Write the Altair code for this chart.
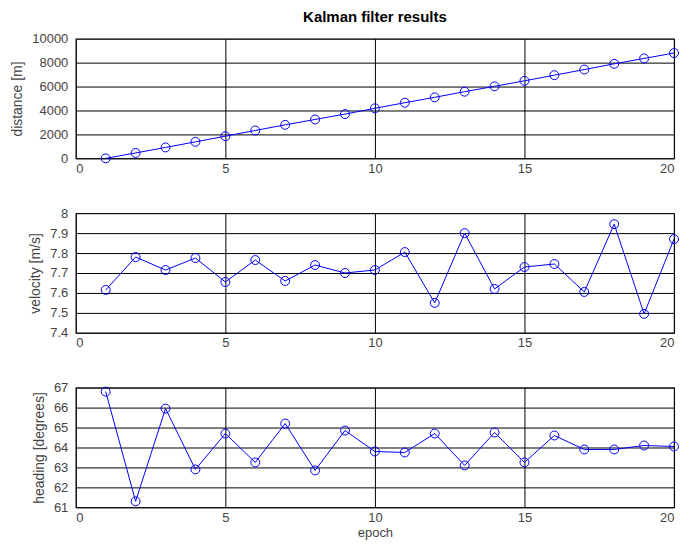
import altair as alt
import pandas as pd

epoch = list(range(1, 21))
distance = [0, 450, 910, 1380, 1850, 2330, 2800, 3250, 3700, 4180,
            4650, 5100, 5570, 6020, 6480, 6950, 7420, 7900, 8350, 8800]
velocity = [7.615, 7.78, 7.715, 7.775, 7.655, 7.765, 7.66, 7.74, 7.70, 7.715,
            7.805, 7.55, 7.90, 7.62, 7.73, 7.745, 7.605, 7.945, 7.495, 7.87]
heading = [66.8, 61.3, 65.95, 62.9, 64.7, 63.25, 65.2, 62.85, 64.85, 63.8,
           63.75, 64.7, 63.1, 64.75, 63.25, 64.6, 63.9, 63.9, 64.1, 64.05]

x_ticks = [0, 5, 10, 15, 20]
dist_ticks = [0, 2000, 4000, 6000, 8000, 10000]
vel_ticks = [7.4, 7.5, 7.6, 7.7, 7.8, 7.9, 8.0]
head_ticks = [61, 62, 63, 64, 65, 66, 67]

df = pd.DataFrame({"epoch": epoch, "distance": distance,
                   "velocity": velocity, "heading": heading})

FONT = "Liberation Sans"
BLUE = "#0000ff"


def panel(field, title, domain, ticks, fmt, height, show_x_title=False, chart_title=None):
    x = alt.X("epoch:Q",
              scale=alt.Scale(domain=[0, 20], nice=False),
              axis=alt.Axis(values=x_ticks, title="epoch" if show_x_title else None,
                            ticks=False, labelPadding=4, grid=True,
                            gridColor="#000000", gridWidth=1, domain=False,
                            labelFlush=True, labelFlushOffset=0,
                            titlePadding=2, titleFontSize=13))
    y = alt.Y(f"{field}:Q",
              scale=alt.Scale(domain=domain, nice=False, zero=False),
              axis=alt.Axis(values=ticks, title=title, format=fmt, ticks=False,
                            labelPadding=8, grid=True, gridColor="#000000",
                            gridWidth=1, domain=False, titlePadding=7))
    base = alt.Chart(df)
    line = base.mark_line(color=BLUE, strokeWidth=1).encode(x=x, y=y)
    pts = base.mark_point(shape="circle", filled=False, color=BLUE, size=80,
                          strokeWidth=1, opacity=1).encode(x=x, y=y)
    props = dict(width=600, height=height)
    if chart_title:
        props["title"] = alt.Title(chart_title, anchor="middle", frame="group",
                                   fontSize=15, fontWeight="bold", font=FONT,
                                   color="#000000", offset=8)
    return alt.layer(line, pts).properties(**props)


p1 = panel("distance", "distance [m]", [0, 10000], dist_ticks, "d", 120,
           chart_title="Kalman filter results")
p2 = panel("velocity", "velocity [m/s]", [7.4, 8.0], vel_ticks, ".2~f", 120)
p3 = panel("heading", "heading [degrees]", [61, 67], head_ticks, "d", 120,
           show_x_title=True)

chart = alt.vconcat(p1, p2, p3, spacing=55, bounds="flush").properties(
    padding={"left": 2, "top": 0, "right": 0, "bottom": 0}
).configure_view(
    stroke="#444444", strokeWidth=1.2
).configure_axis(
    labelFont=FONT, labelFontSize=13, labelColor="#444444",
    titleFont=FONT, titleFontSize=14, titleColor="#444444",
    titleFontWeight="normal"
)

chart.save("out.html", embed_options={"renderer": "svg", "actions": False})
